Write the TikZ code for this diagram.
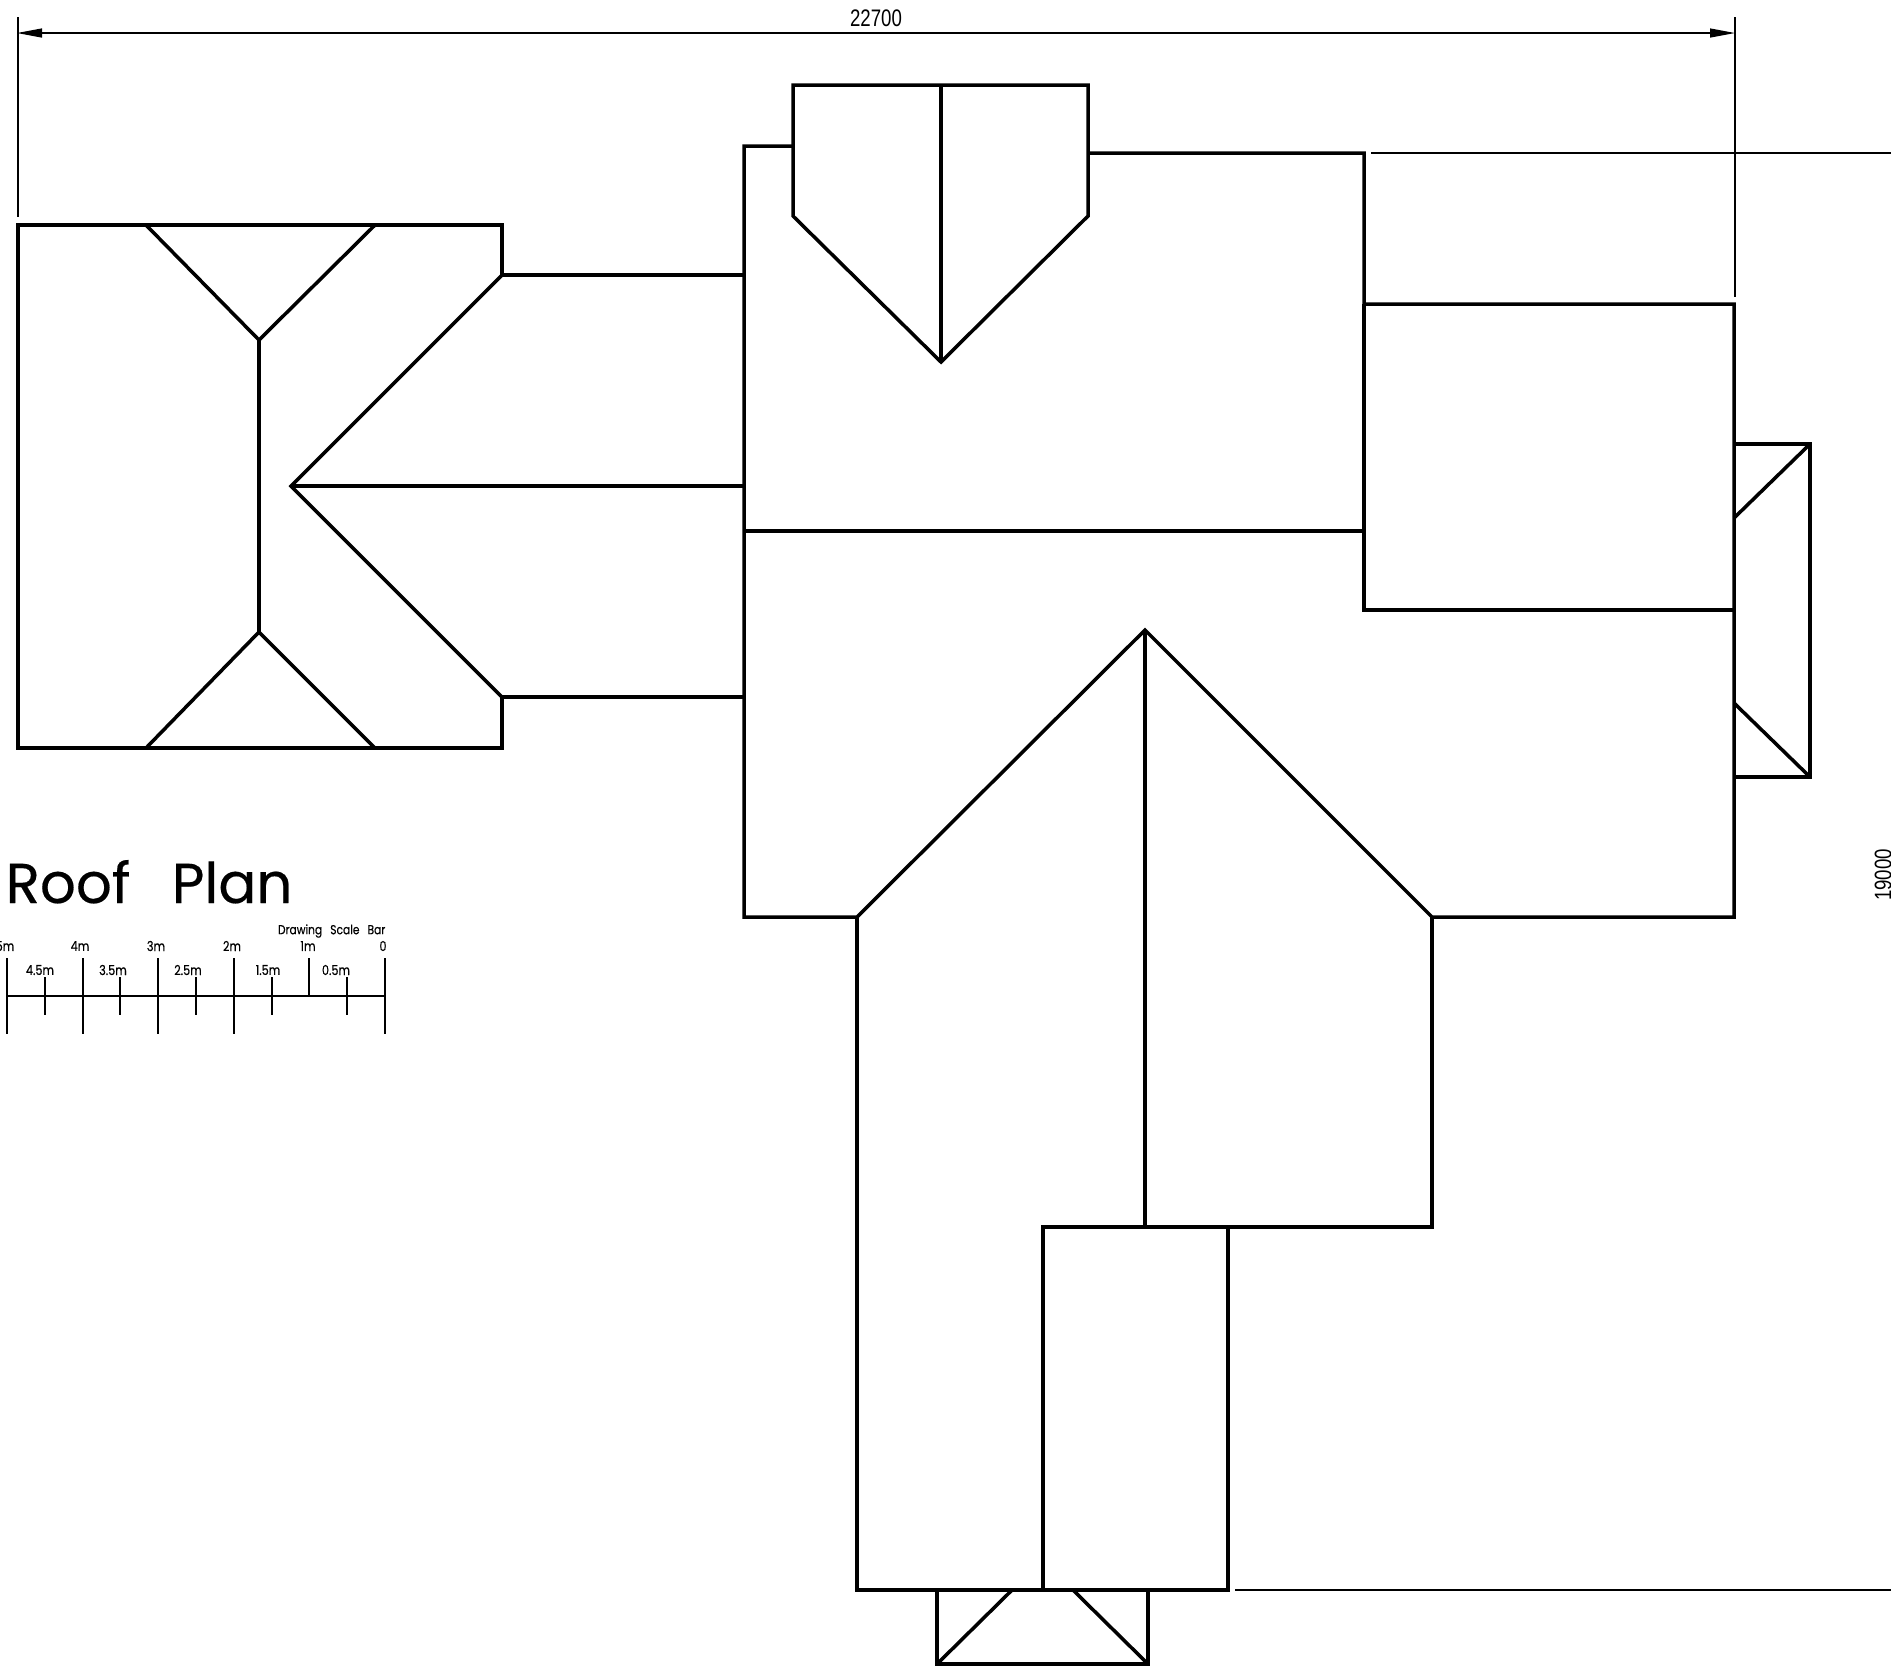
\documentclass[tikz,border=0pt]{standalone}
\usepackage{fontspec}
\setmainfont{Liberation Sans}
\newfontfamily\planfont[FakeBold=0.35]{Poppins}
\newfontfamily\barfont[FakeBold=0.35,FakeStretch=0.82]{Poppins}
\newfontfamily\dimfont[FakeStretch=0.78]{Liberation Sans}
\usetikzlibrary{arrows.meta}

\begin{document}
\begin{tikzpicture}[x=0.01cm,y=-0.01cm]
        % Setup the styles for the plan
        \tikzset{roof line/.style={line width=1pt, line join=miter},
                 thin line/.style={line width=0.35pt},
                 dim label/.style={inner sep=0pt, font=\dimfont\fontsize{6.8pt}{8pt}\selectfont},
                 scale label/.style={inner sep=0pt, font=\barfont\fontsize{3.9pt}{5pt}\selectfont},
                 bar line/.style={line width=0.6pt}}
        \useasboundingbox (0,0) rectangle (1891,1665);

        % Draw the left wing
        \draw[roof line] (743,275) -- (502,275) -- (502,225) -- (18,225) -- (18,748) -- (502,748) -- (502,697) -- (743,697);
        \draw[roof line] (146,225) -- (259,340) -- (375,225);
        \draw[roof line] (259,340) -- (259,632);
        \draw[roof line] (146,748) -- (259,632) -- (375,748);
        \draw[roof line] (502,275) -- (291,486) -- (502,697);
        \draw[roof line] (291,486) -- (743,486);

        % Draw the main roof
        \draw[roof line] (793,146) -- (744,146) -- (744,917) -- (857,917) -- (1145,630) -- (1432,917) -- (1734,917) -- (1734,304) -- (1364,304) -- (1364,153) -- (1088,153);
        \draw[roof line] (744,531) -- (1364,531);
        \draw[roof line] (1364,304) -- (1364,610) -- (1734,610);

        % Draw the top dormer
        \draw[roof line] (793,85) -- (1088,85) -- (1088,216) -- (941,362) -- (793,216) -- cycle;
        \draw[roof line] (941,85) -- (941,362);

        % Draw the right bay
        \draw[roof line] (1734,444) -- (1810,444) -- (1810,777) -- (1734,777);
        \draw[roof line] (1734,518) -- (1810,444);
        \draw[roof line] (1734,703) -- (1810,777);

        % Draw the lower wing
        \draw[roof line] (857,917) -- (857,1590) -- (1228,1590) -- (1228,1227) -- (1043,1227) -- (1043,1590);
        \draw[roof line] (1145,630) -- (1145,1227);
        \draw[roof line] (1228,1227) -- (1432,1227) -- (1432,917);

        % Draw the bottom porch
        \draw[roof line] (937,1590) -- (937,1664) -- (1148,1664) -- (1148,1590);
        \draw[roof line] (937,1664) -- (1012,1590);
        \draw[roof line] (1148,1664) -- (1073,1590);

        % Draw the dimensions
        \draw[thin line, {Triangle[length=0.25cm,width=0.09cm]}-{Triangle[length=0.25cm,width=0.09cm]}] (17,33) -- (1735,33);
        \draw[thin line] (18,17) -- (18,217);
        \draw[thin line] (1735,17) -- (1735,297);
        \draw[thin line] (1371,153) -- (1891,153);
        \draw[thin line] (1235,1590) -- (1891,1590);
        \node[dim label] at (876,18) (width) {22700};
        \node[dim label, rotate=90] at (1883,875) (height) {19000};

        % Draw the title
        \node[inner sep=0pt, anchor=base west, font=\planfont\fontsize{16pt}{20pt}\selectfont] at (5,903) (title) {Roof\hspace{0.47em} Plan};

        % Draw the scale bar
        \draw[bar line] (7,996) -- (385,996);
        \draw[bar line] (7,958) -- (7,1034);
        \draw[bar line] (83,958) -- (83,1034);
        \draw[bar line] (158,958) -- (158,1034);
        \draw[bar line] (234,958) -- (234,1034);
        \draw[bar line] (309,958) -- (309,996);
        \draw[bar line] (385,958) -- (385,1034);
        \draw[bar line] (45,977) -- (45,1015);
        \draw[bar line] (120,977) -- (120,1015);
        \draw[bar line] (196,977) -- (196,1015);
        \draw[bar line] (272,977) -- (272,1015);
        \draw[bar line] (347,977) -- (347,1015);

        % Label the scale bar
        \node[scale label, anchor=east, font=\barfont\fontsize{3.7pt}{5pt}\selectfont] at (386,931) (barname) {Drawing\hspace{2.3pt}Scale\hspace{2.3pt}Bar};
        \node[scale label, anchor=east] at (15,946) (five) {5m};
        \node[scale label] at (80,946) (four) {4m};
        \node[scale label] at (156,946) (three) {3m};
        \node[scale label] at (232,946) (two) {2m};
        \node[scale label] at (308,946) (one) {1m};
        \node[scale label] at (383,946) (zero) {0};
        \node[scale label] at (40,970) (fourhalf) {4.5m};
        \node[scale label] at (113,970) (threehalf) {3.5m};
        \node[scale label] at (188,970) (twohalf) {2.5m};
        \node[scale label] at (268,970) (onehalf) {1.5m};
        \node[scale label] at (336,970) (half) {0.5m};
\end{tikzpicture}
\end{document}
